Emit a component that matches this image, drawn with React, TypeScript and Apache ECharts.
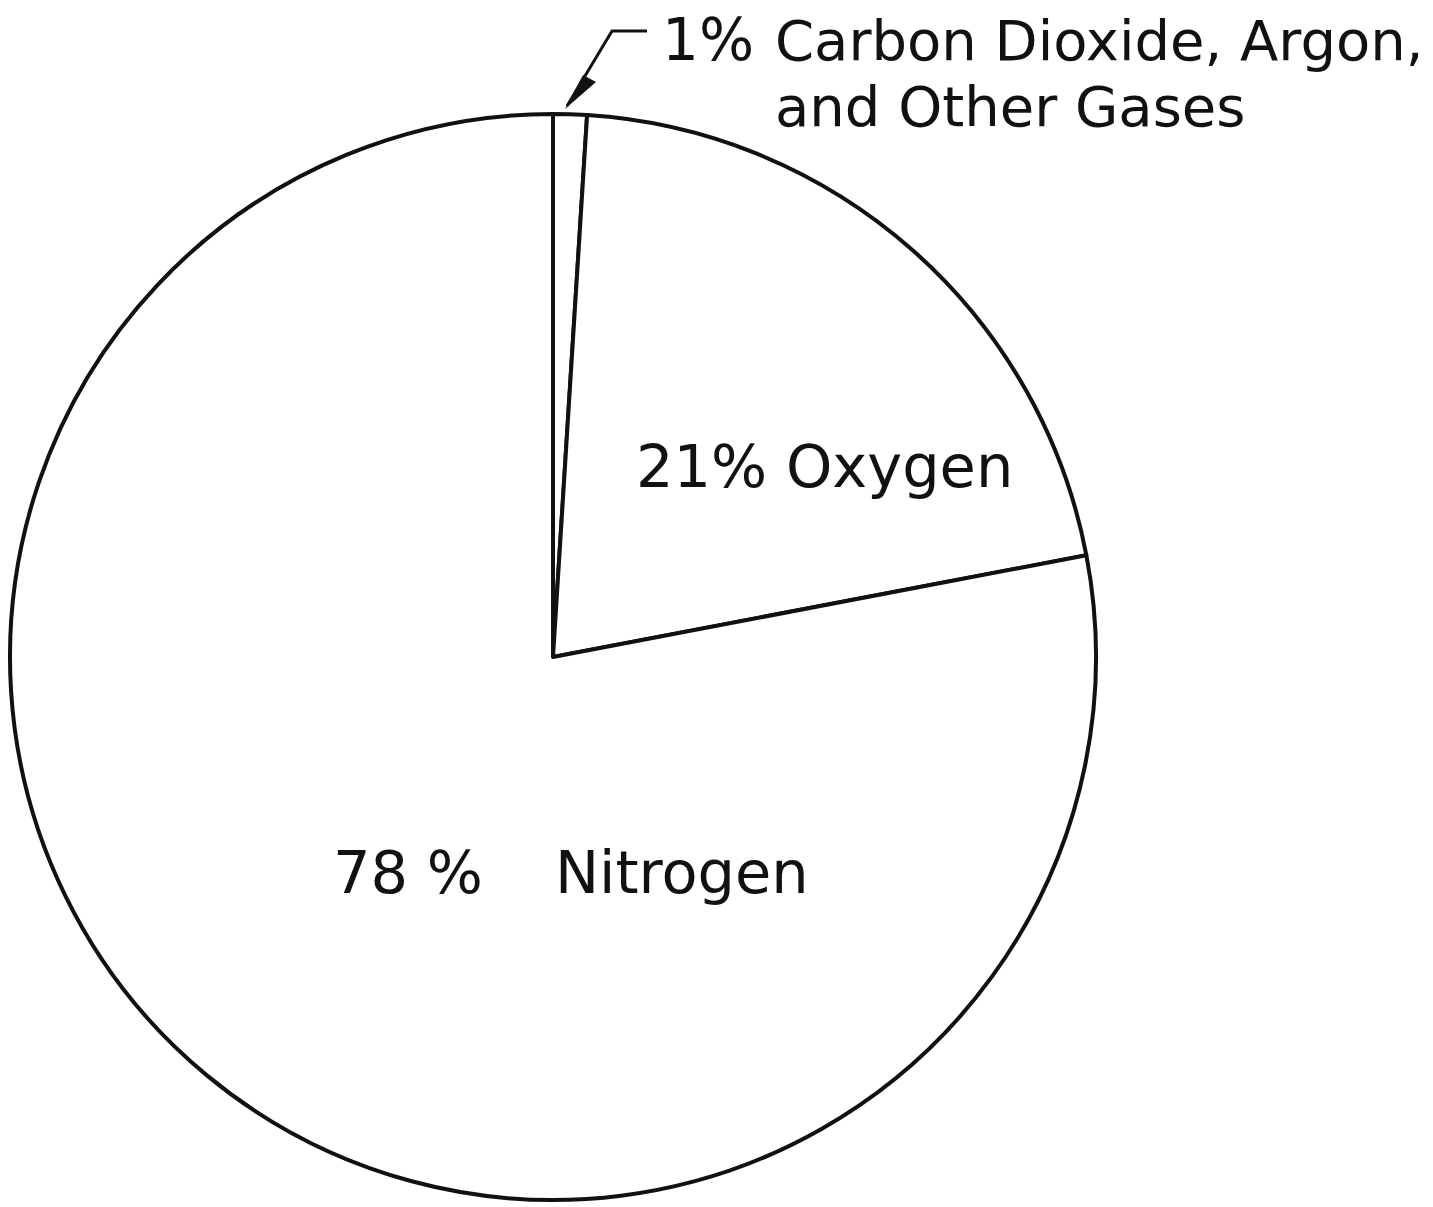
import React, { useEffect, useRef } from "react";
import * as echarts from "echarts";

const names = ["Carbon Dioxide, Argon, and Other Gases", "Oxygen", "Nitrogen"];
const values = [1, 21, 78];
const labelTexts = [
  "{p|1%}{t|Carbon Dioxide, Argon,}\n{s| }{t|and Other Gases}",
  "21% Oxygen",
  "{n|78 %}{g| }{n|Nitrogen}",
];

const FONT = "DejaVu Sans";

export default function App() {
  const ref = useRef<HTMLDivElement>(null);
  useEffect(() => {
    document.body.style.margin = "0";
    const chart = echarts.init(ref.current!, null, { renderer: "svg" });
    const labelPos = [
      { x: 662, y: 73, align: "left" },
      { x: 636, y: 466, align: "left" },
      { x: 333, y: 872, align: "left" },
    ];
    chart.setOption({
      animation: false,
      backgroundColor: "#ffffff",
      series: [
        {
          type: "pie",
          center: [553, 657],
          radius: [0, 543],
          startAngle: 90,
          clockwise: true,
          avoidLabelOverlap: false,
          itemStyle: { color: "#ffffff", borderColor: "#111111", borderWidth: 4 },
          emphasis: { disabled: true },
          label: {
            show: true,
            color: "#111111",
            fontFamily: FONT,
            fontSize: 59,
            formatter: (p: any) => labelTexts[p.dataIndex],
            rich: {
              p: { fontFamily: FONT, fontSize: 58, color: "#111111", width: 113, lineHeight: 66 },
              s: { fontFamily: FONT, fontSize: 56, width: 113, lineHeight: 66 },
              t: { fontFamily: FONT, fontSize: 56, color: "#111111", lineHeight: 66 },
              n: { fontFamily: FONT, fontSize: 59, color: "#111111" },
              g: { fontFamily: FONT, fontSize: 59, width: 72 },
            },
          },
          labelLine: { show: false },
          labelLayout: (params: any) => {
            const lp = labelPos[params.dataIndex];
            return { x: lp.x, y: lp.y, align: lp.align, verticalAlign: "middle" };
          },
          data: names.map((n, i) => ({ name: n, value: values[i] })),
        },
      ],
      graphic: [
        {
          type: "polyline",
          shape: { points: [[567, 106], [612, 31], [647, 31]] },
          style: { stroke: "#111111", lineWidth: 3, fill: null },
        },
        {
          type: "polygon",
          shape: { points: [[565, 109], [583, 75], [596, 82]] },
          style: { fill: "#111111" },
        },
      ],
    });
    return () => chart.dispose();
  }, []);
  return <div ref={ref} style={{ width: 1433, height: 1207 }} />;
}
